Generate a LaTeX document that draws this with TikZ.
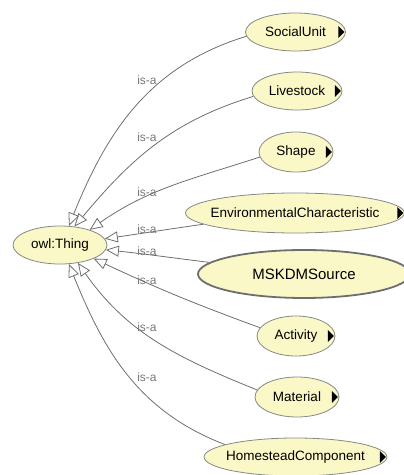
\documentclass[tikz,border=0pt]{standalone}
\usepackage{fontspec}
\setmainfont{Liberation Sans}
\usepackage{tikz}
\usetikzlibrary{arrows.meta}
\usetikzlibrary{shapes.geometric}

\definecolor{classfill}{RGB}{250,248,198}
\definecolor{classline}{RGB}{135,135,135}
\definecolor{edgeline}{RGB}{110,110,110}
\definecolor{isagray}{RGB}{120,120,120}

% class name of zero width, so the ellipse keeps its own size
\newcommand{\clsname}[1]{\makebox[0pt]{#1}}

\begin{document}
\begin{tikzpicture}[x=1pt, y=1pt,
        class_style/.style={ellipse,draw=classline,fill=classfill,line width=0.8pt,inner sep=0pt,font=\fontsize{13.5}{16}\selectfont},
        selected_class_style/.style={ellipse,draw=edgeline,fill=classfill,line width=1.8pt,inner sep=0pt,font=\fontsize{15}{18}\selectfont},
        edge_style/.style={draw=edgeline, line width=0.8pt, -{Triangle[open,length=13pt,width=11pt]}},
        label_style/.style={text=isagray,inner sep=0pt,font=\fontsize{12}{14}\selectfont}]
        \useasboundingbox (0,0) rectangle (404,475);

        \node [class_style, minimum width=94pt, minimum height=38pt](n_thing) at (60,230) {\clsname{owl:Thing}};
        \node [class_style, minimum width=100pt, minimum height=38pt](n_social) at (295.5,443) {\clsname{SocialUnit}};
        \node [class_style, minimum width=90pt, minimum height=38pt](n_livestock) at (297,384) {\clsname{Livestock}};
        \node [class_style, minimum width=74pt, minimum height=40pt](n_shape) at (296,323) {\clsname{Shape}};
        \node [class_style, minimum width=219pt, minimum height=40pt](n_env) at (295,262) {\clsname{EnvironmentalCharacteristic}};
        \node [selected_class_style, minimum width=212pt, minimum height=48pt](n_mskdm) at (304,201) {\clsname{MSKDMSource}};
        \node [class_style, minimum width=78pt, minimum height=40pt](n_activity) at (296,139) {\clsname{Activity}};
        \node [class_style, minimum width=84pt, minimum height=40pt](n_material) at (297,78) {\clsname{Material}};
        \node [class_style, minimum width=183pt, minimum height=38pt](n_homestead) at (295.5,18) {\clsname{HomesteadComponent}};

        % expand markers
        \foreach \n in {n_social,n_livestock,n_shape,n_env,n_activity,n_material,n_homestead}
            \fill (\n.east) ++(-1.5,0) -- ++(-6,6) -- ++(0,-12) -- cycle;

        \draw [edge_style] (n_social.185) to[out=197,in=68] (n_thing.65);
        \draw [edge_style] (n_livestock.187) to[out=197,in=50] (n_thing.52);
        \draw [edge_style] (n_shape.188) to[out=198,in=35] (n_thing.27);
        \draw [edge_style] (n_env.187) to[out=188,in=8] (n_thing.8);
        \draw [edge_style] (n_mskdm.173) to[out=173,in=-6] (n_thing.-6);
        \draw [edge_style] (n_activity.167) to[out=160,in=-25] (n_thing.-22);
        \draw [edge_style] (n_material.170) to[out=158,in=-55] (n_thing.-45);
        \draw [edge_style] (n_homestead.170) to[out=159,in=-68] (n_thing.-65);

        \node [label_style](l_social) at (147,395) {is-a};
        \node [label_style](l_livestock) at (147,338) {is-a};
        \node [label_style](l_shape) at (147,283) {is-a};
        \node [label_style](l_env) at (147,246) {is-a};
        \node [label_style](l_mskdm) at (147,224) {is-a};
        \node [label_style](l_activity) at (147,195) {is-a};
        \node [label_style](l_material) at (147,148) {is-a};
        \node [label_style](l_homestead) at (147,98) {is-a};
\end{tikzpicture}
\end{document}
